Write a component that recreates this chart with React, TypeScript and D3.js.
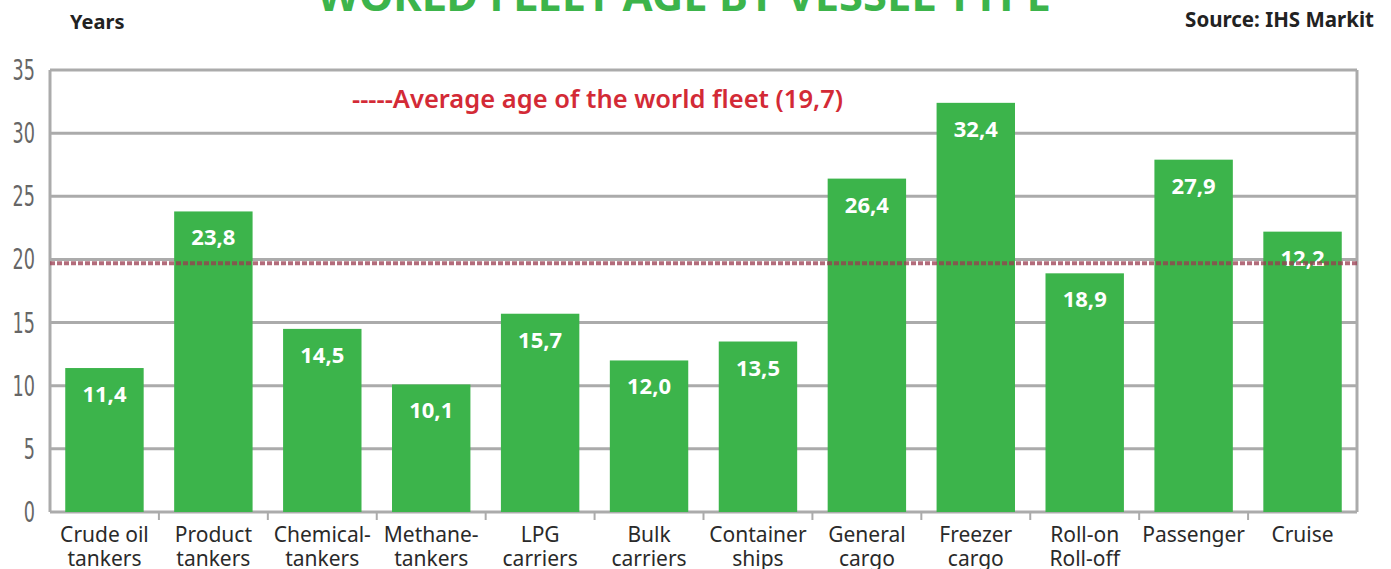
import React, { useEffect } from 'react';
import * as d3 from 'd3';

// chart data
const categories = [
  ['Crude oil', 'tankers'],
  ['Product', 'tankers'],
  ['Chemical-', 'tankers'],
  ['Methane-', 'tankers'],
  ['LPG', 'carriers'],
  ['Bulk', 'carriers'],
  ['Container', 'ships'],
  ['General', 'cargo'],
  ['Freezer', 'cargo'],
  ['Roll-on', 'Roll-off'],
  ['Passenger'],
  ['Cruise'],
];
const ages = [11.4, 23.8, 14.5, 10.1, 15.7, 12.0, 13.5, 26.4, 32.4, 18.9, 27.9, 22.2];
const valueLabels = ['11,4', '23,8', '14,5', '10,1', '15,7', '12,0', '13,5', '26,4', '32,4', '18,9', '27,9', '12,2'];
const yTicks = [0, 5, 10, 15, 20, 25, 30, 35];
const worldAverage = 19.7;

const W = 1391;
const H = 569;
const margin = { top: 70, right: 34, bottom: 57, left: 50 };
const GREEN = '#3cb44b';
const GRID = '#ababab';
const FONT = '"Noto Sans", "Open Sans", sans-serif';

export default function App() {
  useEffect(() => {
    document.body.style.margin = '0';
  }, []);

  const innerW = W - margin.left - margin.right;
  const innerH = H - margin.top - margin.bottom;

  const x = d3.scaleBand<number>()
    .domain(d3.range(categories.length))
    .range([0, innerW])
    .paddingInner(0.28)
    .paddingOuter(0.14);

  const y = d3.scaleLinear().domain([0, 35]).range([innerH, 0]);

  // small tick marks between bars on the bottom edge
  const sepTicks = d3.range(1, categories.length).map(i => x(i)! - (x.step() * x.paddingInner()) / 2);

  const tickX = -15;

  return (
    <svg width={W} height={H} style={{ display: 'block', background: '#fff' }}>
      <text
        x={684}
        y={11}
        textAnchor="middle"
        fontFamily={FONT}
        fontWeight={700}
        fontSize={43.5}
        fill={GREEN}
      >
        WORLD FLEET AGE BY VESSEL TYPE
      </text>
      <text x={70} y={29} fontFamily={FONT} fontWeight={700} fontSize={20} fill="#222">Years</text>
      <text x={1374} y={27} textAnchor="end" fontFamily={FONT} fontWeight={700} fontSize={20.5} fill="#222">
        Source: IHS Markit
      </text>

      <g transform={`translate(${margin.left},${margin.top})`}>
        {/* grid */}
        {yTicks.map(t => (
          <line key={t} x1={0} x2={innerW} y1={y(t)} y2={y(t)} stroke={GRID} strokeWidth={3} />
        ))}
        <line x1={0} x2={0} y1={0} y2={innerH} stroke={GRID} strokeWidth={3} />
        <line x1={innerW} x2={innerW} y1={0} y2={innerH} stroke={GRID} strokeWidth={3} />
        {sepTicks.map((sx, i) => (
          <line key={i} x1={sx} x2={sx} y1={innerH} y2={innerH + 8} stroke={GRID} strokeWidth={2} />
        ))}

        {/* y axis labels, narrow and tall */}
        {yTicks.map(t => (
          <text
            key={t}
            x={tickX}
            y={y(t) + 10}
            textAnchor="end"
            fontFamily='"DejaVu Sans Condensed", sans-serif'
            fontSize={28}
            fill="#666"
            transform={`translate(${tickX * 0.3},0) scale(0.7,1)`}
          >
            {t}
          </text>
        ))}

        {/* bars */}
        {ages.map((v, i) => (
          <rect
            key={i}
            x={x(i)}
            y={y(v)}
            width={x.bandwidth()}
            height={innerH - y(v)}
            fill={GREEN}
          />
        ))}

        {/* value labels */}
        {ages.map((v, i) => (
          <text
            key={i}
            x={x(i)! + x.bandwidth() / 2}
            y={y(v) + 34}
            textAnchor="middle"
            fontFamily={FONT}
            fontWeight={700}
            fontSize={22}
            fill="#fff"
          >
            {valueLabels[i]}
          </text>
        ))}

        {/* average line */}
        <line
          x1={0}
          x2={innerW}
          y1={y(worldAverage)}
          y2={y(worldAverage)}
          stroke="#9a3b4f"
          strokeOpacity={0.75}
          strokeWidth={4}
          strokeDasharray="5,2"
        />
        <text
          x={302}
          y={38}
          fontFamily={FONT}
          fontWeight={600}
          fontSize={25.5}
          fill="#d32a36"
        >
          -----Average age of the world fleet (19,7)
        </text>

        {/* category labels */}
        {categories.map((lines, i) => (
          <text
            key={i}
            x={x(i)! + x.bandwidth() / 2}
            textAnchor="middle"
            fontFamily={FONT}
            fontSize={21}
            fill="#2a2a2a"
          >
            {lines.map((l, j) => (
              <tspan key={j} x={x(i)! + x.bandwidth() / 2} y={innerH + 30 + j * 24}>
                {l}
              </tspan>
            ))}
          </text>
        ))}
      </g>
    </svg>
  );
}
